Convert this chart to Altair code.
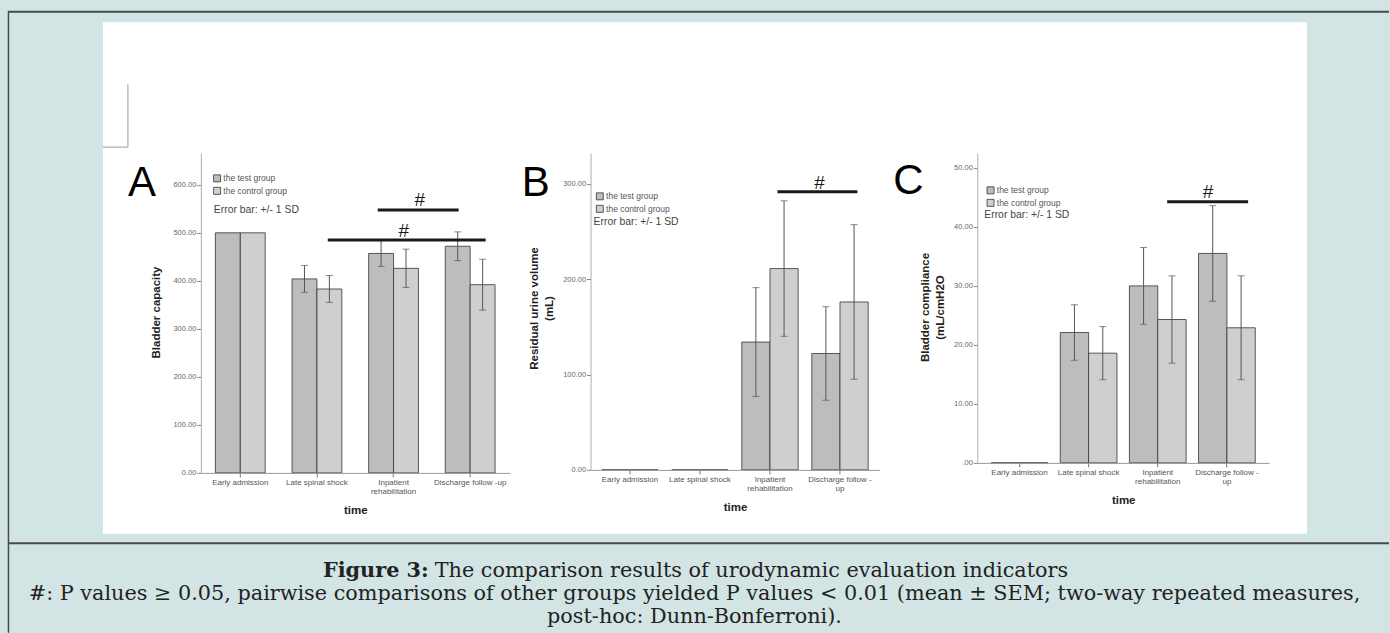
import altair as alt
import pandas as pd

# ---------------- data ----------------
categories = ["Early admission", "Late spinal shock", "Inpatient rehabilitation", "Discharge follow-up"]
groups = ["the test group", "the control group"]

cap_test = [500, 404, 457, 472]
cap_test_sd = [0, 28, 27, 30]
cap_ctrl = [500, 383, 426, 392]
cap_ctrl_sd = [0, 28, 40, 53]

res_test = [0, 0, 134, 122]
res_test_sd = [0, 0, 57, 49]
res_ctrl = [0, 0, 211, 176]
res_ctrl_sd = [0, 0, 71, 81]

comp_test = [0, 22.1, 30.0, 35.5]
comp_test_sd = [0, 4.7, 6.5, 8.1]
comp_ctrl = [0, 18.6, 24.3, 22.9]
comp_ctrl_sd = [0, 4.5, 7.4, 8.8]

cap_ticks = [0, 100, 200, 300, 400, 500, 600]
res_ticks = [0, 100, 200, 300]
comp_ticks = [0, 10, 20, 30, 40, 50]

caption1_bold = "Figure 3:"
caption1 = "The comparison results of urodynamic evaluation indicators"
caption2 = ("#: P values \u2265 0.05, pairwise comparisons of other groups yielded P values < 0.01 "
            "(mean \u00b1 SEM; two-way repeated measures,")
caption3 = "post-hoc: Dunn-Bonferroni)."

TEAL = "#d2e5e4"
C_TEST = "#bdbdbd"
C_CTRL = "#cfcfcf"
SANS = "Liberation Sans"
SERIF = "DejaVu Serif"
CAP_SIZE = 20.8


def frame(t, tsd, c, csd):
    rows = []
    for i, cat in enumerate(categories):
        for g, m, s in ((groups[0], t[i], tsd[i]), (groups[1], c[i], csd[i])):
            rows.append({"cat": cat, "group": g, "mean": m, "sd": s, "lo": m - s, "hi": m + s})
    return pd.DataFrame(rows)


one = pd.DataFrame({"k": [0]})


def rect(x, y, x2, y2, color):
    return alt.Chart(one).mark_rect(color=color).encode(
        x=alt.value(x), x2=alt.value(x2), y=alt.value(y), y2=alt.value(y2))


def rule(x, y, x2, y2, color, w):
    return alt.Chart(one).mark_rule(color=color, strokeWidth=w).encode(
        x=alt.value(x), x2=alt.value(x2), y=alt.value(y), y2=alt.value(y2))


def text(x, y, s, size, font, weight="normal", align="center", color="#222", baseline="alphabetic"):
    return alt.Chart(one).mark_text(text=s, fontSize=size, font=font, fontWeight=weight,
                                    align=align, color=color, baseline=baseline).encode(
        x=alt.value(x), y=alt.value(y))


def panel(df, view_w, plot_w, plot_h, pin, pout, ymax, yticks, ylab_expr, ytitle, ytx, yty,
          xlab_expr, legxy, errxy, letter, letxy, sig, pre_layers=()):
    xs = alt.Scale(domain=categories, range=[0, plot_w], paddingInner=pin, paddingOuter=pout)
    ys = alt.Scale(domain=[0, ymax], nice=False, zero=True)
    xo = alt.XOffset("group:N", sort=groups, scale=alt.Scale(domain=groups, paddingInner=0, paddingOuter=0))
    xax = alt.Axis(title="time", labelAngle=0, labelExpr=xlab_expr, labelFontSize=8, labelColor="#555",
                   labelFont=SANS, labelLineHeight=9, labelPadding=2,
                   tickSize=4, tickColor="#777", domainColor="#999", titleFont=SANS,
                   titleFontSize=11.5, titleFontWeight="bold", titleColor="#222", titleY=38,
                   titleBaseline="middle", zindex=1, labelOverlap=False, labelLimit=200)
    yax = alt.Axis(title=ytitle, values=yticks, labelExpr=ylab_expr, labelFontSize=7.5, labelColor="#666",
                   labelFont=SANS, labelPadding=1, tickSize=4, tickColor="#888", domainColor="#b0b0b0",
                   grid=False, titleFont=SANS, titleFontSize=11.5, titleFontWeight="bold",
                   titleColor="#222", titleAngle=270, titleAlign="center", titleBaseline="middle",
                   titleX=ytx, titleY=yty, titleLineHeight=15, zindex=1)
    legend = alt.Legend(title=None, orient="none", legendX=legxy[0], legendY=legxy[1], symbolType="square",
                        symbolSize=49, symbolStrokeColor="#333", symbolStrokeWidth=0.8, labelFontSize=8.5,
                        labelColor="#555", labelFont=SANS, rowPadding=1.5, labelOffset=2, padding=0, zindex=1)
    bars = alt.Chart(df).mark_bar(stroke="#333", strokeWidth=0.8).encode(
        x=alt.X("cat:N", scale=xs, axis=xax, sort=categories),
        xOffset=xo,
        y=alt.Y("mean:Q", scale=ys, axis=yax),
        color=alt.Color("group:N", scale=alt.Scale(domain=groups, range=[C_TEST, C_CTRL]), legend=legend),
    )
    base = alt.Chart(df).transform_filter("datum.sd > 0")
    err = base.mark_rule(color="#555", strokeWidth=1).encode(
        x=alt.X("cat:N", scale=xs, sort=categories), xOffset=xo,
        y=alt.Y("lo:Q", scale=ys), y2="hi:Q")
    cap_hi = base.mark_tick(color="#555", thickness=1, size=7, orient="horizontal").encode(
        x=alt.X("cat:N", scale=xs, sort=categories), xOffset=xo,
        y=alt.Y("hi:Q", scale=ys))
    cap_lo = base.mark_tick(color="#555", thickness=1, size=7, orient="horizontal").encode(
        x=alt.X("cat:N", scale=xs, sort=categories), xOffset=xo,
        y=alt.Y("lo:Q", scale=ys))
    errtxt = text(errxy[0], errxy[1], "Error bar: +/- 1 SD", 10.4, SANS, align="left", color="#444",
                  baseline="middle")
    let = text(letxy[0], letxy[1], letter, 42, SANS, color="#000")
    sig_layers = []
    for (x1, x2, yl, tx, ty) in sig:
        sig_layers.append(rule(x1, yl, x2, yl, "#1a1a1a", 3))
        sig_layers.append(text(tx, ty, "#", 19, SANS, color="#1a1a1a", baseline="middle"))
    layers = list(pre_layers) + [bars, err, cap_hi, cap_lo, errtxt, let] + sig_layers
    return alt.layer(*layers).properties(width=view_w, height=plot_h)


# page decorations (relative to panel A plot origin at page (201,153))
OX, OY = 201, 153
deco = [
    rect(-OX, -OY, 1390 - OX, 633 - OY, TEAL),
    rect(103 - OX, 22 - OY, 1308 - OX, 534 - OY, "#ffffff"),
    rule(8 - OX, 11.5 - OY, 1390 - OX, 11.5 - OY, "#4a4a4a", 2),
    rule(8.5 - OX, 11 - OY, 8.5 - OX, 633 - OY, "#4a4a4a", 1.5),
    rule(8 - OX, 543.5 - OY, 1390 - OX, 543.5 - OY, "#4a4a4a", 2),
    rule(128 - OX, 84 - OY, 128 - OX, 147 - OY, "#999", 1),
    rule(103 - OX, 147 - OY, 128 - OX, 147 - OY, "#999", 1),
    text(429 - OX, 577 - OY, caption1_bold, CAP_SIZE, SERIF, weight="bold", align="right"),
    text(435 - OX, 577 - OY, caption1, CAP_SIZE, SERIF, align="left"),
    text(695 - OX, 600 - OY, caption2, CAP_SIZE, SERIF),
    text(695 - OX, 623 - OY, caption3, CAP_SIZE, SERIF),
]

xl_a = ("datum.label == 'Inpatient rehabilitation' ? ['Inpatient', 'rehabilitation'] : "
        "datum.label == 'Discharge follow-up' ? 'Discharge follow -up' : datum.label")
xl_bc = ("datum.label == 'Inpatient rehabilitation' ? ['Inpatient', 'rehabilitation'] : "
         "datum.label == 'Discharge follow-up' ? ['Discharge follow -', 'up'] : datum.label")

pA = panel(frame(cap_test, cap_test_sd, cap_ctrl, cap_ctrl_sd), 390, 309, 320, 0.35, 0.19, 666, cap_ticks,
           "format(datum.value, '.2f')", "Bladder capacity", -44, 159, xl_a,
           (12, 21), (13, 57), "A", (-59, 43),
           [(177, 258, 57, 219, 47), (127, 285, 87, 203, 77.5)], pre_layers=deco)
pB = panel(frame(res_test, res_test_sd, res_ctrl, res_ctrl_sd), 387, 289, 317, 0.195, 0.16, 332, res_ticks,
           "format(datum.value, '.2f')", ["Residual urine volume", "(mL)"], -56, 155, xl_bc,
           (5, 39), (3, 69), "B", (-55, 43),
           [(187, 267, 38.7, 229, 30)])
pC = panel(frame(comp_test, comp_test_sd, comp_ctrl, comp_ctrl_sd), 292, 292, 310, 0.18, 0.2, 52.5, comp_ticks,
           "datum.value == 0 ? '.00' : format(datum.value, '.2f')", ["Bladder compliance", "(mL/cmH2O"],
           -51.5, 154, xl_bc, (9, 33), (7, 62), "C", (-69, 41),
           [(190, 271, 48.7, 231, 39)])

chart = alt.hconcat(pA, pB, pC, spacing=0, bounds="flush").resolve_scale(
    x="independent", y="independent", xOffset="independent", color="shared"
).resolve_legend(color="independent").properties(
    padding=0, background=TEAL
).configure_view(stroke=None)

chart.save("out.html", embed_options={"renderer": "svg", "actions": False})
